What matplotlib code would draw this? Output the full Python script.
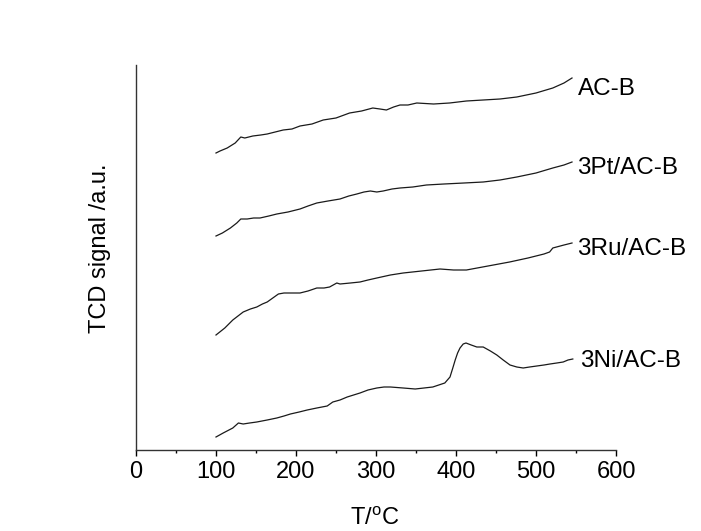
import matplotlib
matplotlib.use("Agg")
import matplotlib.pyplot as plt
from matplotlib.ticker import MultipleLocator

plt.rcParams['font.family'] = ['Liberation Sans', 'DejaVu Sans']
plt.rcParams['mathtext.fontset'] = 'custom'
plt.rcParams['mathtext.rm'] = 'Liberation Sans'

# Temperatures (°C) and TCD signals (a.u.)
t_acb = [100, 105, 114, 124, 131, 136, 146, 156, 164, 174, 184, 195, 205, 220, 234, 250, 267, 282, 296, 305,
         313, 322, 330, 340, 351, 372, 392, 413, 434, 455, 476, 500, 521, 535, 545]
s_acb = [297, 299, 302, 307, 313, 312, 314, 315, 316, 318, 320, 321, 324, 326, 330, 332, 337, 339, 342, 341,
         340, 343, 345, 345, 347, 346, 347, 349, 350, 351, 353, 357, 362, 367, 372]

t_pt = [100, 108, 118, 126, 131, 139, 147, 155, 166, 176, 190, 205, 215, 226, 240, 255, 266, 276, 285, 293,
        301, 309, 320, 330, 346, 363, 385, 410, 434, 455, 476, 500, 521, 535, 545]
s_pt = [214, 217, 222, 227, 231, 231, 232, 232, 234, 236, 238, 241, 244, 247, 249, 251, 254, 256, 258, 259,
        258, 259, 261, 262, 263, 265, 266, 267, 268, 270, 273, 277, 282, 285, 288]

t_ru = [100, 111, 121, 134, 143, 151, 158, 164, 171, 178, 185, 193, 205, 215, 226, 235, 242, 251, 255, 268,
        280, 290, 301, 318, 334, 357, 380, 397, 413, 440, 467, 490, 510, 517, 521, 535, 545]
s_ru = [115, 122, 130, 138, 141, 143, 146, 148, 152, 156, 157, 157, 157, 159, 162, 162, 163, 167, 166, 167,
        168, 170, 172, 175, 177, 179, 181, 180, 180, 184, 188, 192, 196, 198, 202, 205, 207]

t_ni = [100, 109, 121, 128, 134, 142, 151, 164, 176, 185, 193, 204, 214, 226, 239, 246, 255, 264, 272, 280,
        290, 301, 310, 318, 334, 349, 360, 371, 386, 392.5, 396, 399, 402, 405, 409, 412.5, 419, 426, 434,
        443, 451, 459, 467.5, 476, 484, 492, 501, 510, 517.5, 526, 534, 540, 546]
s_ni = [13, 17, 22, 27, 26, 27, 28, 30, 32, 34, 36, 38, 40, 42, 44, 48, 50, 53, 55, 57,
        60, 62, 63, 63, 62, 61, 62, 63, 67, 73, 82, 90, 97, 102, 106, 107, 105, 103, 103,
        99, 95, 90, 85, 83, 82, 83, 84, 85, 86, 87, 88, 90, 91]

labels = ["AC-B", "3Pt/AC-B", "3Ru/AC-B", "3Ni/AC-B"]
series = [(t_acb, s_acb), (t_pt, s_pt), (t_ru, s_ru), (t_ni, s_ni)]
label_x = [552, 551, 551, 555]
label_y = [355, 276, 195, 83]

W, H = 701, 531
fig = plt.figure(figsize=(W / 100, H / 100), dpi=100)
ax = fig.add_axes([136 / W, 81 / H, 480 / W, 385 / H])

for (t, s) in series:
    ax.plot(t, s, color='#1a1a1a', lw=0.9)

for lab, x, y in zip(labels, label_x, label_y):
    ax.text(x, y, lab, fontsize=17.5, va='baseline', ha='left', clip_on=False)

ax.set_xlim(0, 600)
ax.set_ylim(0, 385)
ax.xaxis.set_major_locator(MultipleLocator(100))
ax.xaxis.set_minor_locator(MultipleLocator(50))
ax.set_yticks([])
ax.spines['top'].set_visible(False)
ax.spines['right'].set_visible(False)
for sp in ['left', 'bottom']:
    ax.spines[sp].set_linewidth(1.0)
    ax.spines[sp].set_color('#333333')
ax.tick_params(axis='x', which='major', direction='out', length=4.5, width=1, labelsize=17, pad=3.5)
ax.tick_params(axis='x', which='minor', direction='out', length=2.5, width=1)

fig.text(375 / W, (H - 525) / H, "T/$^{\\rm o}$C", fontsize=17, ha='center', va='baseline')
fig.text(100 / W, 1 - 248 / H, "TCD signal /a.u.", fontsize=17, rotation=90, ha='center', va='center')

fig.savefig("out.png", dpi=100)
